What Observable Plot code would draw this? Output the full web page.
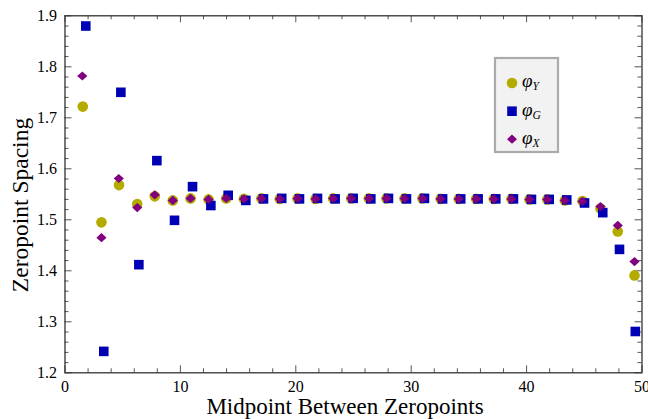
<!DOCTYPE html>
<html>
<head>
<meta charset="utf-8">
<script src="https://cdn.jsdelivr.net/npm/d3@7"></script>
<script src="https://cdn.jsdelivr.net/npm/@observablehq/plot@0.6"></script>
<style>
  html, body { margin: 0; padding: 0; background: #fff; }
  #chart svg { display: block; }
</style>
</head>
<body>
<div id="chart"></div>
<script>
// Midpoints between consecutive zeropoints and the spacing between them, per series.
const midY = [1.54, 3.16, 4.68, 6.26, 7.78, 9.34, 10.88, 12.44, 13.97, 15.50,
              17.02, 18.61, 20.15, 21.71, 23.24, 24.80, 26.33, 27.86, 29.42, 30.98,
              32.55, 34.12, 35.63, 37.16, 38.69, 40.25, 41.79, 43.31, 44.84, 46.40,
              47.90, 49.35];
const spacingY = [1.722, 1.495, 1.568, 1.531, 1.546, 1.538, 1.542, 1.540, 1.542, 1.541,
                  1.542, 1.541, 1.542, 1.541, 1.542, 1.542, 1.542, 1.542, 1.542, 1.542,
                  1.541, 1.541, 1.541, 1.541, 1.541, 1.540, 1.540, 1.538, 1.537, 1.522,
                  1.477, 1.391];

const midG = [1.80, 3.36, 4.84, 6.40, 7.96, 9.49, 11.05, 12.64, 14.14, 15.67,
              17.20, 18.78, 20.32, 21.88, 23.41, 24.97, 26.50, 28.03, 29.59, 31.15,
              32.72, 34.29, 35.80, 37.33, 38.86, 40.42, 41.96, 43.48, 45.02, 46.60,
              48.05, 49.42];
const spacingG = [1.880, 1.242, 1.750, 1.412, 1.616, 1.499, 1.565, 1.528, 1.548, 1.538,
                  1.541, 1.542, 1.541, 1.542, 1.541, 1.542, 1.541, 1.542, 1.541, 1.542,
                  1.541, 1.541, 1.541, 1.541, 1.541, 1.540, 1.540, 1.539, 1.533, 1.514,
                  1.442, 1.281];

const midX = [1.50, 3.16, 4.66, 6.26, 7.78, 9.34, 10.88, 12.44, 13.97, 15.50,
              17.02, 18.61, 20.15, 21.71, 23.24, 24.80, 26.33, 27.86, 29.42, 30.98,
              32.55, 34.12, 35.63, 37.16, 38.69, 40.25, 41.79, 43.31, 44.84, 46.40,
              47.90, 49.35];
const spacingX = [1.782, 1.465, 1.581, 1.524, 1.549, 1.538, 1.542, 1.540, 1.542, 1.541,
                  1.542, 1.541, 1.542, 1.541, 1.542, 1.542, 1.542, 1.542, 1.542, 1.542,
                  1.541, 1.541, 1.541, 1.541, 1.541, 1.540, 1.540, 1.538, 1.536, 1.526,
                  1.489, 1.418];

// Axis ticks
const xMajor = [0, 10, 20, 30, 40, 50];
const xMinor = [2, 4, 6, 8, 12, 14, 16, 18, 22, 24, 26, 28, 32, 34, 36, 38, 42, 44, 46, 48];
const yMajor = [1.2, 1.3, 1.4, 1.5, 1.6, 1.7, 1.8, 1.9];
const yMinor = d3.range(1.22, 1.9, 0.02).filter(v => Math.abs(Math.round(v * 10) - v * 10) > 0.05);

const colY = "#b3ab00", colG = "#0000b4", colX = "#800080";

const toRows = (xs, ys) => xs.map((x, i) => ({x, y: ys[i]}));

// Filled square and rotated-square (diamond) markers
const squareSym = { draw(ctx) { const h = 4.8; ctx.moveTo(-h, -h); ctx.lineTo(h, -h); ctx.lineTo(h, h); ctx.lineTo(-h, h); ctx.closePath(); } };
const diamondSym = { draw(ctx) { ctx.moveTo(0, -4.6); ctx.lineTo(5.1, 0); ctx.lineTo(0, 4.6); ctx.lineTo(-5.1, 0); ctx.closePath(); } };

const W = 648, H = 419;
const mL = 64.5, mR = 6.5, mT = 15.3, mB = 46.7;
const fw = W - mL - mR, fh = H - mT - mB;
const tickCol = "#555";
const serif = "'Liberation Serif', 'Times New Roman', serif";

const plot = Plot.plot({
  width: W, height: H,
  marginLeft: mL, marginRight: mR, marginTop: mT, marginBottom: mB,
  x: {domain: [0, 50]},
  y: {domain: [1.2, 1.9]},
  style: {fontFamily: serif, background: "#fff", color: "#000", overflow: "visible"},
  marks: [
    // inward ticks on all four sides
    Plot.tickX(xMajor, {x: d => d, insetTop: fh - 7, stroke: tickCol}),
    Plot.tickX(xMajor, {x: d => d, insetBottom: fh - 7, stroke: tickCol}),
    Plot.tickX(xMinor, {x: d => d, insetTop: fh - 4, stroke: tickCol}),
    Plot.tickX(xMinor, {x: d => d, insetBottom: fh - 4, stroke: tickCol}),
    Plot.tickY(yMajor, {y: d => d, insetRight: fw - 7, stroke: tickCol}),
    Plot.tickY(yMajor, {y: d => d, insetLeft: fw - 7, stroke: tickCol}),
    Plot.tickY(yMinor, {y: d => d, insetRight: fw - 4, stroke: tickCol}),
    Plot.tickY(yMinor, {y: d => d, insetLeft: fw - 4, stroke: tickCol}),
    Plot.frame({stroke: "#333", strokeWidth: 1.3}),
    Plot.axisX({ticks: xMajor, tickSize: 0, tickPadding: 8, fontSize: 16, label: null, tickFormat: d => String(d)}),
    Plot.axisY({ticks: yMajor, tickSize: 0, tickPadding: 8, fontSize: 16, label: null, tickFormat: d3.format(".1f")}),
    Plot.dot(toRows(midY, spacingY), {x: "x", y: "y", r: 5.3, fill: colY}),
    Plot.dot(toRows(midG, spacingG), {x: "x", y: "y", symbol: squareSym, fill: colG}),
    Plot.dot(toRows(midX, spacingX), {x: "x", y: "y", symbol: diamondSym, fill: colX})
  ]
});

document.getElementById("chart").appendChild(plot);

const svg = d3.select(plot);

// Axis titles
svg.append("text")
  .attr("transform", "translate(28,205) rotate(-90)")
  .attr("text-anchor", "middle")
  .attr("font-family", serif).attr("font-size", 23.5).attr("fill", "#000")
  .text("Zeropoint Spacing");
svg.append("text")
  .attr("x", 345).attr("y", 414)
  .attr("text-anchor", "middle")
  .attr("font-family", serif).attr("font-size", 23).attr("fill", "#000")
  .text("Midpoint Between Zeropoints");

// Legend
const lg = svg.append("g");
lg.append("rect").attr("x", 495).attr("y", 58).attr("width", 63).attr("height", 94)
  .attr("fill", "#f2f2f2").attr("stroke", "#ababab").attr("stroke-width", 2.2);
lg.append("circle").attr("cx", 512).attr("cy", 83).attr("r", 5.3).attr("fill", colY);
lg.append("rect").attr("x", 507.2).attr("y", 106.4).attr("width", 9.6).attr("height", 9.6).attr("fill", colG);
lg.append("path").attr("d", "M512,134.6L517,139.2L512,143.8L507,139.2Z").attr("fill", colX);
const entries = [["Y", 87], ["G", 115.5], ["X", 143.5]];
for (const [sub, yb] of entries) {
  const t = lg.append("text").attr("x", 522).attr("y", yb)
    .attr("text-anchor", "start")
    .attr("font-family", serif).attr("font-style", "italic").attr("font-size", 19).attr("fill", "#000");
  t.append("tspan").text("φ");
  t.append("tspan").attr("font-size", 11.5).attr("dy", 3).text(sub);
}
</script>
</body>
</html>
